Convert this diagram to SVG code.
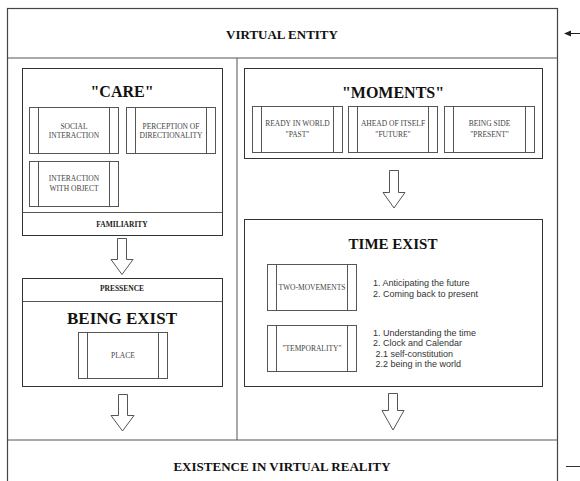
<svg xmlns="http://www.w3.org/2000/svg" width="580" height="481" viewBox="0 0 580 481">
<style>
.frame{fill:#fff;stroke:#444;stroke-width:1.2}
.box{fill:#fff;stroke:#333;stroke-width:1}
.sub{fill:#fff;stroke:#555;stroke-width:1}
.ln{stroke:#555;stroke-width:1;fill:none}
.arr{fill:#fff;stroke:#555;stroke-width:1}
.sf{font-family:'Liberation Serif','DejaVu Serif','Times New Roman',serif;text-anchor:middle;dominant-baseline:central;fill:#111}
.h{font-weight:bold;font-size:13px}
.t{font-weight:bold}
.s{font-size:7.5px;fill:#444}
.sb{font-size:7.5px;font-weight:bold;fill:#222}
.li{font-family:'Liberation Sans','DejaVu Sans',Arial,sans-serif;font-size:9px;fill:#333;text-anchor:start;dominant-baseline:central}
</style>
<rect width="580" height="481" fill="#fff"/>
<g id="frame">
<rect class="frame" x="7.5" y="8.5" width="550" height="480"/>
<line class="ln" x1="7.5" y1="58" x2="557.5" y2="58" stroke="#444"/>
<line class="ln" x1="237" y1="58" x2="237" y2="440"/>
<line class="ln" x1="7.5" y1="440" x2="557.5" y2="440"/>
</g>
<g id="virtual-entity"><text class="sf h" x="282" y="34">VIRTUAL ENTITY</text></g>
<g id="existence"><text class="sf h" x="282" y="466">EXISTENCE IN VIRTUAL REALITY</text></g>
<g id="care">
<rect class="box" x="22.5" y="68.5" width="200" height="167"/>
<line class="ln" x1="22.5" y1="212.5" x2="222.5" y2="212.5"/>
<text class="sf t" x="122" y="91" font-size="16">"CARE"</text>
<text class="sf sb" x="122" y="224">FAMILIARITY</text>
</g>
<g id="social">
<rect class="sub" x="29.5" y="107.5" width="89" height="46"/>
<line class="ln" x1="38.5" y1="107.5" x2="38.5" y2="153.5"/><line class="ln" x1="109.5" y1="107.5" x2="109.5" y2="153.5"/>
<text class="sf s" x="74" y="126">SOCIAL</text><text class="sf s" x="74" y="135.5">INTERACTION</text>
</g>
<g id="perception">
<rect class="sub" x="126.5" y="107.5" width="89" height="46"/>
<line class="ln" x1="135.5" y1="107.5" x2="135.5" y2="153.5"/><line class="ln" x1="206.5" y1="107.5" x2="206.5" y2="153.5"/>
<text class="sf s" x="171" y="126">PERCEPTION OF</text><text class="sf s" x="171" y="135.5">DIRECTIONALITY</text>
</g>
<g id="interaction">
<rect class="sub" x="29.5" y="161.5" width="89" height="45"/>
<line class="ln" x1="38.5" y1="161.5" x2="38.5" y2="206.5"/><line class="ln" x1="109.5" y1="161.5" x2="109.5" y2="206.5"/>
<text class="sf s" x="74" y="178.5">INTERACTION</text><text class="sf s" x="74" y="188">WITH OBJECT</text>
</g>
<g id="being-exist">
<rect class="box" x="22.5" y="278.5" width="200" height="108"/>
<line class="ln" x1="22.5" y1="301.5" x2="222.5" y2="301.5"/>
<text class="sf sb" x="122" y="288.5">PRESSENCE</text>
<text class="sf t" x="122" y="318" font-size="17">BEING EXIST</text>
</g>
<g id="place">
<rect class="sub" x="78.5" y="332.5" width="89" height="46"/>
<line class="ln" x1="87.5" y1="332.5" x2="87.5" y2="378.5"/><line class="ln" x1="158.5" y1="332.5" x2="158.5" y2="378.5"/>
<text class="sf s" x="123" y="355">PLACE</text>
</g>
<g id="moments">
<rect class="box" x="244.5" y="68.5" width="298" height="90"/>
<text class="sf t" x="393" y="92" font-size="16">"MOMENTS"</text>
</g>
<g id="past">
<rect class="sub" x="252.5" y="106.5" width="90" height="46"/>
<line class="ln" x1="261.5" y1="106.5" x2="261.5" y2="152.5"/><line class="ln" x1="333.5" y1="106.5" x2="333.5" y2="152.5"/>
<text class="sf s" x="297.5" y="123.5">READY IN WORLD</text><text class="sf s" x="297.5" y="134.5">"PAST"</text>
</g>
<g id="future">
<rect class="sub" x="348.5" y="106.5" width="89" height="46"/>
<line class="ln" x1="357.5" y1="106.5" x2="357.5" y2="152.5"/><line class="ln" x1="428.5" y1="106.5" x2="428.5" y2="152.5"/>
<text class="sf s" x="393" y="123.5">AHEAD OF ITSELF</text><text class="sf s" x="393" y="134.5">"FUTURE"</text>
</g>
<g id="present">
<rect class="sub" x="444.5" y="106.5" width="90" height="46"/>
<line class="ln" x1="453.5" y1="106.5" x2="453.5" y2="152.5"/><line class="ln" x1="525.5" y1="106.5" x2="525.5" y2="152.5"/>
<text class="sf s" x="489.5" y="123.5">BEING SIDE</text><text class="sf s" x="489.5" y="134.5">"PRESENT"</text>
</g>
<g id="time-exist">
<rect class="box" x="244.5" y="219.5" width="298" height="167"/>
<text class="sf t" x="393" y="243.5" font-size="15">TIME EXIST</text>
<text class="li" x="373" y="282.5">1. Anticipating the future</text>
<text class="li" x="373" y="293.5">2. Coming back to present</text>
<text class="li" x="373" y="332.5">1. Understanding the time</text>
<text class="li" x="373" y="343">2. Clock and Calendar</text>
<text class="li" x="375.5" y="353.5">2.1 self-constitution</text>
<text class="li" x="375.5" y="364">2.2 being in the world</text>
</g>
<g id="two-movements">
<rect class="sub" x="267.5" y="264.5" width="89" height="46"/>
<line class="ln" x1="276.5" y1="264.5" x2="276.5" y2="310.5"/><line class="ln" x1="347.5" y1="264.5" x2="347.5" y2="310.5"/>
<text class="sf s" x="312" y="287.5">TWO-MOVEMENTS</text>
</g>
<g id="temporality">
<rect class="sub" x="267.5" y="325.5" width="89" height="46"/>
<line class="ln" x1="276.5" y1="325.5" x2="276.5" y2="371.5"/><line class="ln" x1="347.5" y1="325.5" x2="347.5" y2="371.5"/>
<text class="sf s" x="312" y="348">"TEMPORALITY"</text>
</g>
<g id="connectors">
<path class="arr" d="M117.5,238.5 H126.5 V259.5 H133 L122,274.5 L111,259.5 H117.5 Z"/>
<path class="arr" d="M118.5,394.5 H127.5 V415.5 H134 L122.5,431 L111,415.5 H118.5 Z"/>
<path class="arr" d="M389.5,170.5 H398.5 V192.5 H405 L394,208 L383,192.5 H389.5 Z"/>
<path class="arr" d="M388.5,393.5 H397.5 V410.5 H404 L393,430 L382,410.5 H388.5 Z"/>
<line x1="580" y1="33.5" x2="570" y2="33.5" stroke="#222" stroke-width="1"/>
<path d="M564,33.5 L571,30.5 L571,36.5 Z" fill="#222"/>
<line x1="566" y1="466.5" x2="580" y2="466.5" stroke="#333" stroke-width="1"/>
</g>
</svg>
